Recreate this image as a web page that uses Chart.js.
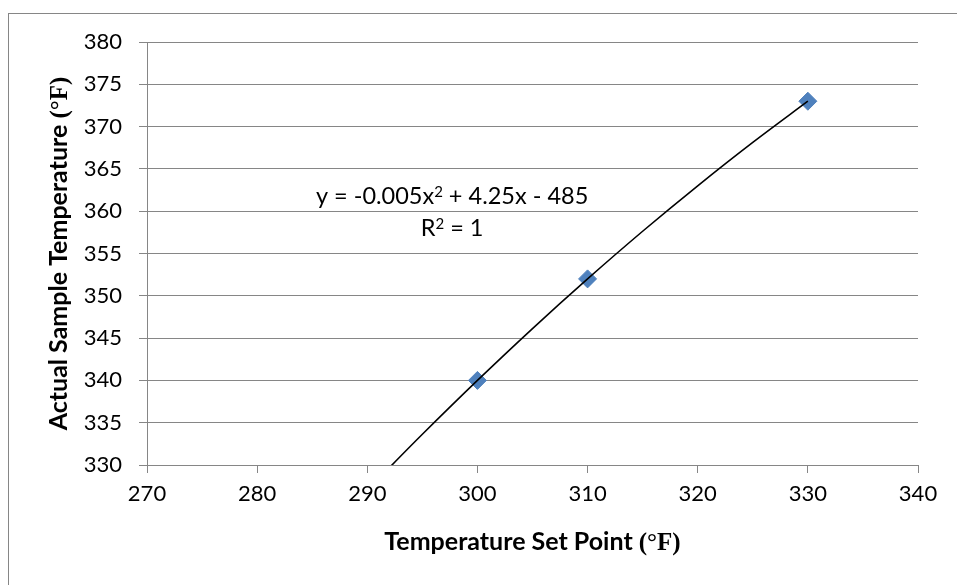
<!DOCTYPE html>
<html>
<head>
<meta charset="utf-8">
<script src="https://cdn.jsdelivr.net/npm/chart.js@4.4.1/dist/chart.umd.min.js"></script>
<style>
  html, body { margin: 0; padding: 0; background: #ffffff; }
  canvas { display: block; }
</style>
</head>
<body>
<canvas id="c" width="957" height="585"></canvas>
<script>
// ---- Data ----
const setPoints = [300, 310, 330];          // Temperature Set Point (°F)
const actualTemps = [340, 352, 373];        // Actual Sample Temperature (°F)
// Polynomial trendline (as drawn, forecast back to 290)
const trendX = [290, 292, 295, 300, 305, 310, 315, 320, 325, 330];
const trendY = [327.0, 329.68, 333.63, 340.0, 346.13, 352.0, 357.63, 363.0, 368.13, 373.0];
const xTicks = [270, 280, 290, 300, 310, 320, 330, 340];
const yTicks = [330, 335, 340, 345, 350, 355, 360, 365, 370, 375, 380];
const equationParts = ['y = -0.005x', '2', ' + 4.25x - 485'];
const r2Parts = ['R', '2', ' = 1'];
const xTitleParts = ['Temperature Set Point ', '(\u00B0F)'];
const yTitleParts = ['Actual Sample Temperature ', '(\u00B0F)'];

const GRID = '#868686';
const SANS = 'Lato';
const SERIF = '"Liberation Serif"';

// draw runs of text: each run {t, font, dy}
function drawRuns(ctx, runs, cx, cy, rotate) {
  const widths = runs.map(r => { ctx.font = r.font; return ctx.measureText(r.t).width; });
  const total = widths.reduce((a, b) => a + b, 0);
  ctx.save();
  ctx.translate(cx, cy);
  if (rotate) ctx.rotate(-Math.PI / 2);
  ctx.fillStyle = '#000';
  ctx.textBaseline = 'alphabetic';
  ctx.textAlign = 'left';
  let x = -total / 2;
  runs.forEach((r, i) => { ctx.font = r.font; ctx.fillText(r.t, x, r.dy || 0); x += widths[i]; });
  ctx.restore();
}

const decor = {
  id: 'decor',
  beforeDraw(chart) {
    const ctx = chart.ctx;
    ctx.save();
    ctx.fillStyle = '#fff';
    ctx.fillRect(0, 0, chart.width, chart.height);
    ctx.strokeStyle = GRID;
    ctx.lineWidth = 1;
    ctx.strokeRect(8.5, 13.5, chart.width + 10, chart.height + 10);
    ctx.restore();
  },
  afterDraw(chart) {
    const ctx = chart.ctx;
    const xs = chart.scales.x, ys = chart.scales.y;
    const ca = chart.chartArea;
    const main = '23.5px ' + SANS, sup = '15px ' + SANS;
    const lx = xs.getPixelForValue(297.7);
    // baselines (alphabetic) for the two label lines
    const b1 = ys.getPixelForValue(361.9) + 8.5;
    const b2 = ys.getPixelForValue(358.1) + 8.5;
    drawRuns(ctx, [
      { t: equationParts[0], font: main },
      { t: equationParts[1], font: sup, dy: -7 },
      { t: equationParts[2], font: main }
    ], lx, b1, false);
    drawRuns(ctx, [
      { t: r2Parts[0], font: main },
      { t: r2Parts[1], font: sup, dy: -7 },
      { t: r2Parts[2], font: main }
    ], lx, b2, false);
    // axis titles
    const tb = 'bold 25px ' + SANS, ts = 'bold 25px ' + SERIF;
    drawRuns(ctx, [{ t: xTitleParts[0], font: tb }, { t: xTitleParts[1], font: ts }],
      (ca.left + ca.right) / 2, 550, false);
    drawRuns(ctx, [{ t: yTitleParts[0], font: tb }, { t: yTitleParts[1], font: ts }],
      67, (ca.top + ca.bottom) / 2, true);
  }
};

new Chart(document.getElementById('c'), {
  type: 'scatter',
  data: {
    datasets: [
      {
        type: 'line',
        label: 'Trend',
        data: trendX.map((x, i) => ({ x: x, y: trendY[i] })),
        borderColor: '#000000',
        borderWidth: 1.6,
        pointRadius: 0,
        fill: false,
        cubicInterpolationMode: 'monotone',
        order: 0
      },
      {
        label: 'Actual',
        data: setPoints.map((x, i) => ({ x: x, y: actualTemps[i] })),
        pointStyle: 'rectRot',
        pointRadius: 9,
        pointHoverRadius: 9,
        backgroundColor: '#4F81BD',
        borderColor: '#4F81BD',
        borderWidth: 1,
        order: 1
      }
    ]
  },
  options: {
    responsive: false,
    devicePixelRatio: 1,
    animation: false,
    layout: { padding: { left: 0, top: 42, right: 39, bottom: 0 } },
    plugins: { legend: { display: false }, tooltip: { enabled: false } },
    scales: {
      x: {
        type: 'linear',
        min: 270, max: 340,
        afterFit(s) { s.height = 120; },
        afterBuildTicks(s) { s.ticks = xTicks.map(v => ({ value: v })); },
        grid: { color: 'rgba(0,0,0,0)', tickColor: GRID, tickLength: 8, drawTicks: true },
        border: { color: GRID, width: 1 },
        ticks: { color: '#000', font: { family: SANS, size: 22 }, padding: 8, maxRotation: 0 }
      },
      y: {
        type: 'linear',
        min: 330, max: 380,
        afterFit(s) { s.width = 147; },
        afterBuildTicks(s) { s.ticks = yTicks.map(v => ({ value: v })); },
        grid: { color: GRID, tickColor: GRID, tickLength: 8, lineWidth: 1 },
        border: { color: GRID, width: 1 },
        ticks: { color: '#000', font: { family: SANS, size: 22 }, padding: 17 }
      }
    }
  },
  plugins: [decor]
});
</script>
</body>
</html>
